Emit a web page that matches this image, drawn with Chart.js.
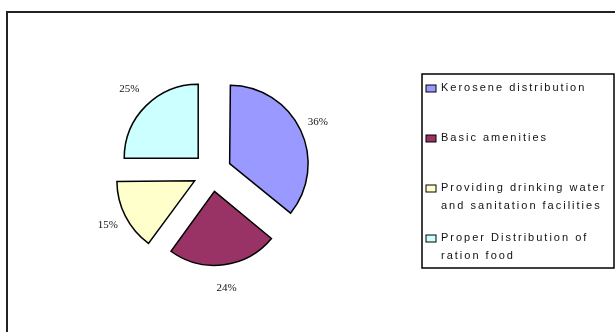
<!DOCTYPE html>
<html>
<head>
<meta charset="utf-8">
<script src="https://cdn.jsdelivr.net/npm/chart.js@4/dist/chart.umd.min.js"></script>
<style>
  body { margin: 0; background: #fff; }
  #wrap { position: relative; width: 615px; height: 332px; }
</style>
</head>
<body>
<div id="wrap"><canvas id="pie"></canvas></div>
<script>
// --- Chart data ---
const categories = [
    'Kerosene distribution',
    'Basic amenities',
    ['Providing drinking water', 'and sanitation facilities'],
    ['Proper Distribution of', 'ration food']
];
const shares = [36, 24, 15, 25];
const sliceColors = ['#9999FF', '#993366', '#FFFFCC', '#CCFFFF'];

// --- Frame, percent labels and legend ---
const decorations = {
    id: 'decorations',
    afterDraw(chart) {
        const ctx = chart.ctx;
        ctx.save();

        // outer frame
        ctx.strokeStyle = '#222';
        ctx.lineWidth = 2;
        ctx.beginPath();
        ctx.moveTo(620, 12);
        ctx.lineTo(7, 12);
        ctx.lineTo(7, 340);
        ctx.stroke();

        // percent labels
        const meta = chart.getDatasetMeta(0);
        ctx.fillStyle = '#111';
        ctx.font = '11px "Liberation Serif"';
        ctx.textAlign = 'center';
        ctx.textBaseline = 'middle';
        meta.data.forEach((arc, i) => {
            const mid = (arc.startAngle + arc.endAngle) / 2;
            const r = arc.outerRadius + 43;
            ctx.fillText(shares[i] + '%', arc.x + Math.cos(mid) * r, arc.y + Math.sin(mid) * r);
        });

        // legend box
        ctx.strokeStyle = '#000';
        ctx.lineWidth = 1.5;
        ctx.strokeRect(422, 74, 192, 194);

        ctx.font = '11px "Liberation Sans"';
        ctx.letterSpacing = '2px';
        ctx.textAlign = 'left';
        categories.forEach((label, i) => {
            const y = 88 + i * 50;
            ctx.fillStyle = sliceColors[i];
            ctx.fillRect(426, y - 3, 10, 7);
            ctx.lineWidth = 1;
            ctx.strokeStyle = '#000';
            ctx.strokeRect(426, y - 3, 10, 7);
            ctx.fillStyle = '#111';
            const lines = Array.isArray(label) ? label : [label];
            lines.forEach((line, j) => {
                ctx.fillText(line, 441, y + j * 18);
            });
        });
        ctx.restore();
    }
};

new Chart(document.getElementById('pie'), {
    type: 'pie',
    data: {
        labels: categories.map(l => Array.isArray(l) ? l.join(' ') : l),
        datasets: [{
            data: shares,
            backgroundColor: sliceColors,
            borderColor: '#000',
            borderWidth: 1.5,
            borderJoinStyle: 'miter',
            radius: 74,
            offset: 78,
            hoverOffset: 0
        }]
    },
    options: {
        responsive: true,
        maintainAspectRatio: false,
        animation: false,
        events: [],
        layout: { padding: { left: 98, right: 289, top: 62, bottom: 50 } },
        plugins: {
            legend: { display: false },
            tooltip: { enabled: false }
        }
    },
    plugins: [decorations]
});
</script>
</body>
</html>
